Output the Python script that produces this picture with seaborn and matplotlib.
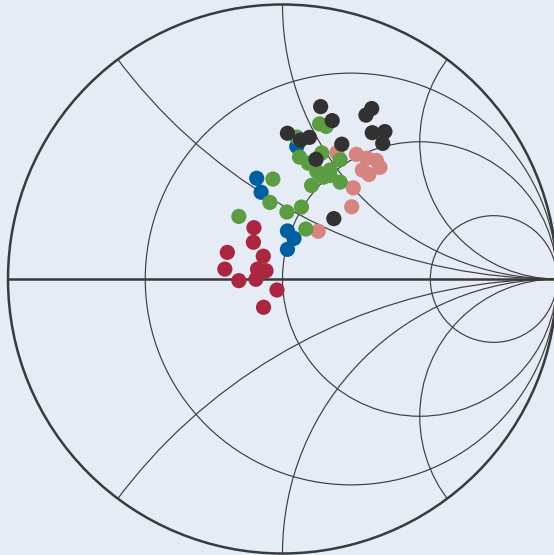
import numpy as np
import pandas as pd
import matplotlib
matplotlib.use("Agg")
import matplotlib.pyplot as plt
from matplotlib.patches import Circle
import seaborn as sns

# Reflection coefficient (real, imaginary) for each measurement group
red_re = [-0.104, -0.106, -0.201, -0.070, -0.210, -0.091, -0.060, -0.159, -0.097, -0.020, -0.069]
red_im = [0.187, 0.134, 0.097, 0.083, 0.036, 0.036, 0.030, -0.006, -0.001, -0.040, -0.103]

blue_re = [-0.094, -0.078, 0.052, 0.018, 0.042, 0.018]
blue_im = [0.367, 0.316, 0.483, 0.175, 0.148, 0.108]

pink_re = [0.198, 0.269, 0.307, 0.342, 0.355, 0.291, 0.315, 0.258, 0.252, 0.130]
pink_im = [0.460, 0.454, 0.440, 0.432, 0.407, 0.397, 0.381, 0.332, 0.263, 0.174]

green_re = [-0.035, -0.159, -0.046, 0.016, 0.069, 0.085, 0.106, 0.125, 0.173, 0.173,
            0.149, 0.210, 0.143, 0.210, 0.062, 0.094, 0.135, 0.159, 0.052]
green_im = [0.364, 0.228, 0.279, 0.244, 0.262, 0.182, 0.341, 0.392, 0.397, 0.377,
            0.371, 0.353, 0.459, 0.434, 0.444, 0.422, 0.565, 0.556, 0.517]

black_re = [0.139, 0.181, 0.325, 0.304, 0.018, 0.066, 0.098, 0.327, 0.373, 0.365,
            0.216, 0.122, 0.187]
black_im = [0.628, 0.577, 0.621, 0.597, 0.531, 0.506, 0.516, 0.533, 0.537, 0.494,
            0.491, 0.436, 0.220]

groups = ["red", "blue", "pink", "green", "black"]
colors = {"red": "#AA2641", "blue": "#005F9E", "pink": "#D5847F",
          "green": "#5C9C43", "black": "#323232"}

# Smith chart grid: constant resistance circles and constant reactance arcs
resistance_vals = [1 / 3, 1.0, 10 / 3]
reactance_vals = [0.5, 1.0, 2.0, -0.5, -1.0, -2.0]

frames = []
for name, re, im in [("red", red_re, red_im), ("blue", blue_re, blue_im),
                     ("pink", pink_re, pink_im), ("green", green_re, green_im),
                     ("black", black_re, black_im)]:
    frames.append(pd.DataFrame({"re": re, "im": im, "group": name}))
df = pd.concat(frames, ignore_index=True)

sns.set_theme(style="white")
bg = "#E5ECF6"
fig = plt.figure(figsize=(5.54, 5.55), dpi=100, facecolor=bg)
ax = fig.add_axes([0, 0, 1, 1])
ax.set_facecolor(bg)

scale = 274.5
cx, cy = 282.5, 279.0
ax.set_xlim(-cx / scale, (554 - cx) / scale)
ax.set_ylim((cy - 555) / scale, cy / scale)
ax.set_aspect("equal")
ax.axis("off")

grid_color = "#3d3d3d"
unit = Circle((0, 0), 1.0, transform=ax.transData, facecolor="none", edgecolor="none")
ax.add_patch(unit)

for r in resistance_vals:
    c = Circle((r / (1 + r), 0), 1 / (1 + r), fill=False, lw=0.85,
               edgecolor=grid_color, zorder=1)
    ax.add_patch(c)

for x in reactance_vals:
    c = Circle((1, 1 / x), 1 / abs(x), fill=False, lw=0.85,
               edgecolor=grid_color, zorder=1)
    ax.add_patch(c)
    c.set_clip_path(unit)

ax.add_patch(Circle((0, 0), 1.0, fill=False, lw=1.8, edgecolor="#3a3a3a", zorder=2))
ax.plot([-1, 1], [0, 0], color="#3a3a3a", lw=1.8, zorder=2, solid_capstyle="butt")

sns.scatterplot(data=df, x="re", y="im", hue="group", hue_order=groups,
                palette=colors, s=120, linewidth=0, alpha=1.0,
                legend=False, ax=ax, zorder=3)

fig.savefig("out.png", dpi=100, facecolor=bg)
